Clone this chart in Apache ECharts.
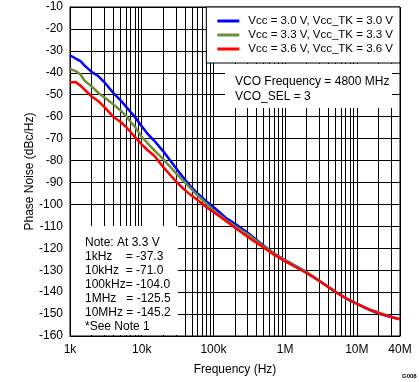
<!DOCTYPE html>
<html><head><meta charset="utf-8">
<script src="https://cdn.jsdelivr.net/npm/echarts@6/dist/echarts.min.js"></script>
<style>html,body{margin:0;padding:0;background:#fff}#c{width:419px;height:382px}</style>
</head><body><div id="c"></div>
<script>
// Frequency offsets (Hz)
const freqHz = [1000,1200,1400,1600,2000,2500,3000,4000,5000,6000,7000,8000,
  10000,12000,15000,20000,25000,30000,40000,50000,60000,80000,
  100000,150000,200000,300000,500000,700000,
  1e6,1.5e6,2e6,3e6,5e6,7e6,1e7,1.5e7,2e7,3e7,4e7];
// Phase noise (dBc/Hz)
const pnVcc30 = [-32.0,-33.5,-34.7,-36.7,-39.6,-41.6,-44.2,-49.1,-52.3,-55.3,-57.9,-60.0,
  -64.4,-67.7,-71.0,-75.8,-80.0,-83.4,-88.7,-92.4,-95.0,-98.7,
  -101.2,-106.2,-108.8,-112.9,-118.7,-122.4,
  -125.4,-128.6,-130.9,-134.8,-139.8,-142.8,-145.3,-148.1,-149.8,-151.4,-152.4];
const pnVcc33 = [-38.2,-39.2,-40.8,-43.6,-46.2,-49.2,-51.2,-54.3,-57.0,-59.5,-62.3,-64.5,
  -69.2,-72.0,-75.4,-79.4,-82.9,-85.7,-90.0,-93.3,-95.9,-99.7,
  -102.8,-107.1,-110.0,-113.6,-119.1,-122.4,
  -125.5,-128.7,-131.0,-134.8,-139.8,-142.7,-145.2,-147.9,-149.2,-151.2,-152.3];
const pnVcc36 = [-44.4,-44.2,-45.9,-47.7,-50.8,-53.0,-55.5,-60.0,-62.2,-64.6,-67.0,-69.2,
  -72.6,-75.2,-77.8,-83.0,-86.6,-89.5,-93.5,-96.1,-98.0,-101.3,
  -103.5,-107.6,-110.6,-114.8,-119.6,-122.9,
  -126.0,-129.1,-131.4,-134.9,-139.8,-142.7,-145.3,-148.0,-149.6,-151.3,-152.3];
const seriesNames = ['Vcc = 3.0 V, Vcc_TK = 3.0 V','Vcc = 3.3 V, Vcc_TK = 3.3 V','Vcc = 3.6 V, Vcc_TK = 3.6 V'];
const seriesColors = ['#0000ff','#6b8e3a','#ff0000'];
const xTickValues = [1e3,1e4,1e5,1e6,1e7,4e7];
const xTickLabels = ['1k','10k','100k','1M','10M','40M'];
const vcoLines = ['VCO Frequency = 4800 MHz','VCO_SEL = 3'];
const noteLines = ['Note: At 3.3 V','1kHz    = -37.3','10kHz  = -71.0','100kHz= -104.0','1MHz   = -125.5','10MHz = -145.2','*See Note 1'];

const gridFreqs = [];
for (let d = 1e3; d <= 1e7; d *= 10) for (let k = 1; k < 10; k++) { const f = k * d; if (f <= 4e7) gridFreqs.push(f); }

const FONT = '"Liberation Sans", Arial, sans-serif';
const allData = [pnVcc30, pnVcc33, pnVcc36];
const chart = echarts.init(document.getElementById('c'), null, {renderer:'canvas'});
chart.setOption({
  animation:false,
  textStyle:{fontFamily:FONT},
  grid:{left:70,top:7,width:330,height:329,show:true,borderColor:'#000',borderWidth:1,backgroundColor:'rgba(0,0,0,0)'},
  xAxis:{type:'log',logBase:10,min:1e3,max:4e7,
    name:'Frequency (Hz)',nameLocation:'middle',nameGap:28,nameMoveOverlap:false,
    nameTextStyle:{fontSize:12,color:'#000',fontFamily:FONT},
    axisLine:{show:true,lineStyle:{color:'#000',width:1}},
    axisTick:{show:false,customValues:gridFreqs},
    splitLine:{show:true,lineStyle:{color:'#000',width:1}},
    minorTick:{show:false},minorSplitLine:{show:false},
    axisLabel:{customValues:xTickValues,fontSize:12,color:'#000',margin:8,fontFamily:FONT,
      formatter:function(v){for(let i=0;i<xTickValues.length;i++){if(Math.abs(v-xTickValues[i])/xTickValues[i]<1e-6)return xTickLabels[i];}return '';}}
  },
  yAxis:{type:'value',min:-160,max:-10,interval:10,
    name:'Phase Noise (dBc/Hz)',nameLocation:'middle',nameGap:34,nameMoveOverlap:false,
    nameTextStyle:{fontSize:12,color:'#000',fontFamily:FONT},
    axisLine:{show:true,lineStyle:{color:'#000',width:1}},
    axisTick:{show:false},
    splitLine:{show:true,lineStyle:{color:'#000',width:1}},
    axisLabel:{fontSize:12,color:'#000',margin:7,fontFamily:FONT}
  },
  legend:{right:19,top:7,orient:'vertical',padding:[7,7,7,11],itemGap:0,itemWidth:22,itemHeight:3,icon:'rect',
    borderColor:'#000',borderWidth:1,backgroundColor:'#fff',borderRadius:0,
    textStyle:{fontSize:11.5,color:'#000',lineHeight:14,fontFamily:FONT,padding:[0,0,0,4]},
    data:seriesNames},
  series:allData.map(function(arr,si){return {
    type:'line',name:seriesNames[si],showSymbol:false,symbol:'none',
    lineStyle:{color:seriesColors[si],width:2.5},itemStyle:{color:seriesColors[si]},
    data:freqHz.map(function(f,i){return [f,arr[i]];}),z:2+si};}),
  graphic:[
    {type:'rect',shape:{x:225,y:64,width:167,height:44},style:{fill:'#fff'},z:5},
    {type:'text',x:235,y:74,style:{text:vcoLines.join('\n'),fontSize:12,fontFamily:FONT,lineHeight:15,fill:'#000',verticalAlign:'top'},z:6},
    {type:'rect',shape:{x:71,y:226,width:107,height:109},style:{fill:'#fff'},z:5},
    {type:'text',x:85,y:236,style:{text:noteLines.join('\n'),fontSize:12,fontFamily:FONT,lineHeight:14,fill:'#000',verticalAlign:'top'},z:6},
    {type:'text',x:402,y:373,style:{text:'G008',fontSize:6,fontWeight:'bold',fontFamily:FONT,fill:'#000'},z:6}
  ]
});
</script></body></html>
